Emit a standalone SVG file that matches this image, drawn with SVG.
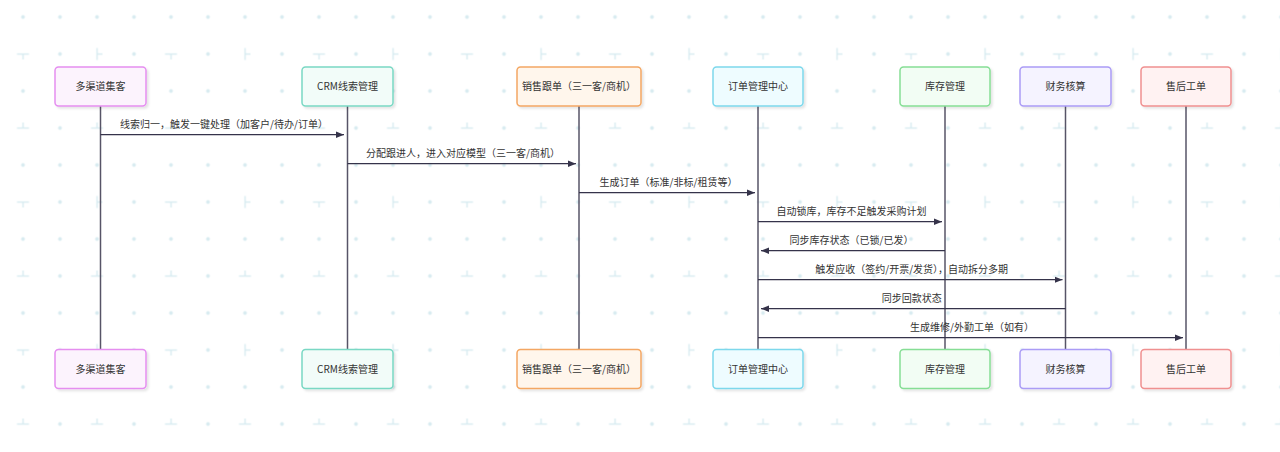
<svg xmlns="http://www.w3.org/2000/svg" width="1280" height="452" viewBox="0 0 1280 452">
<defs>
<pattern id="bg" x="4.5" y="-1.5" width="148" height="148" patternUnits="userSpaceOnUse">
<g fill="#d9ecf1">
<circle cx="18.5" cy="18.5" r="1.9"/><circle cx="55.5" cy="18.5" r="1.9"/><circle cx="92.5" cy="18.5" r="1.9"/><circle cx="129.5" cy="18.5" r="1.9"/>
<circle cx="55.5" cy="55.5" r="1.9"/><circle cx="129.5" cy="55.5" r="1.9"/>
<circle cx="18.5" cy="92.5" r="1.9"/><circle cx="55.5" cy="92.5" r="1.9"/><circle cx="92.5" cy="92.5" r="1.9"/><circle cx="129.5" cy="92.5" r="1.9"/>
<circle cx="55.5" cy="129.5" r="1.9"/><circle cx="129.5" cy="129.5" r="1.9"/>
<rect x="12.5" y="54.8" width="12" height="1.5"/><rect x="17.8" y="55.5" width="1.5" height="5.5"/>
<rect x="91.8" y="49.5" width="1.5" height="12"/><rect x="92.5" y="54.8" width="5.5" height="1.5"/>
<rect x="12.5" y="128.8" width="12" height="1.5"/><rect x="17.8" y="124" width="1.5" height="5.5"/>
<rect x="86.5" y="128.8" width="12" height="1.5"/><rect x="91.8" y="124" width="1.5" height="5.5"/>
</g>
</pattern>
<filter id="sh" x="-10%" y="-20%" width="130%" height="150%">
<feDropShadow dx="2" dy="2" stdDeviation="1.2" flood-color="#000" flood-opacity="0.1"/>
</filter>
<marker id="ah" viewBox="0 0 8 8" refX="8" refY="4" markerWidth="8" markerHeight="8" markerUnits="userSpaceOnUse" orient="auto">
<path d="M0,0.8 L8,4 L0,7.2 Z" fill="#35334a"/>
</marker>
</defs>
<style>
.nt{font-family:"Noto Sans CJK SC","Noto Sans",sans-serif;font-size:10px;fill:#333;text-anchor:middle}
.ml{font-family:"Noto Sans CJK SC","Noto Sans",sans-serif;font-size:10px;fill:#333;text-anchor:middle}
.box{stroke-width:1.5;filter:url(#sh)}
.life{stroke:#575467;stroke-width:1.5;fill:none}
.msg{stroke:#35334a;stroke-width:1.3;fill:none;marker-end:url(#ah)}
</style>
<rect width="1280" height="452" fill="#ffffff"/>
<rect width="1280" height="452" fill="url(#bg)"/>
<g id="lifelines">
<line class="life" x1="100.5" y1="106" x2="100.5" y2="349.5"/>
<line class="life" x1="347.5" y1="106" x2="347.5" y2="349.5"/>
<line class="life" x1="579" y1="106" x2="579" y2="349.5"/>
<line class="life" x1="758" y1="106" x2="758" y2="349.5"/>
<line class="life" x1="945" y1="106" x2="945" y2="349.5"/>
<line class="life" x1="1065.5" y1="106" x2="1065.5" y2="349.5"/>
<line class="life" x1="1186" y1="106" x2="1186" y2="349.5"/>
</g>
<g id="connectors">
<line class="msg" x1="100.5" y1="134.7" x2="344" y2="134.7"/>
<text class="ml" x="224" y="127.7">线索归一，触发一键处理（加客户/待办/订单）</text>
<line class="msg" x1="347.5" y1="163.7" x2="576" y2="163.7"/>
<text class="ml" x="463" y="156.7">分配跟进人，进入对应模型（三一客/商机）</text>
<line class="msg" x1="579" y1="192.7" x2="755" y2="192.7"/>
<text class="ml" x="668.5" y="185.7">生成订单（标准/非标/租赁等）</text>
<line class="msg" x1="758" y1="221.7" x2="942" y2="221.7"/>
<text class="ml" x="851.5" y="214.7">自动锁库，库存不足触发采购计划</text>
<line class="msg" x1="945" y1="250.7" x2="761" y2="250.7"/>
<text class="ml" x="851.5" y="243.7">同步库存状态（已锁/已发）</text>
<line class="msg" x1="758" y1="279.7" x2="1062.5" y2="279.7"/>
<text class="ml" x="911.7" y="272.7">触发应收（签约/开票/发货），自动拆分多期</text>
<line class="msg" x1="1065.5" y1="308.7" x2="761" y2="308.7"/>
<text class="ml" x="911.7" y="301.7">同步回款状态</text>
<line class="msg" x1="758" y1="337.7" x2="1183" y2="337.7"/>
<text class="ml" x="972" y="330.7">生成维修/外勤工单（如有）</text>
</g>
<g id="n1">
<rect class="box" x="55" y="67" width="91" height="39" rx="3.5" fill="#fcf3fd" stroke="#e58ef0"/>
<text class="nt" x="100.5" y="90">多渠道集客</text>
<rect class="box" x="55" y="349.5" width="91" height="39" rx="3.5" fill="#fcf3fd" stroke="#e58ef0"/>
<text class="nt" x="100.5" y="372.5">多渠道集客</text>
</g>
<g id="n2">
<rect class="box" x="302" y="67" width="91" height="39" rx="3.5" fill="#f2fcf9" stroke="#7ad8c4"/>
<text class="nt" x="347.5" y="90">CRM线索管理</text>
<rect class="box" x="302" y="349.5" width="91" height="39" rx="3.5" fill="#f2fcf9" stroke="#7ad8c4"/>
<text class="nt" x="347.5" y="372.5">CRM线索管理</text>
</g>
<g id="n3">
<rect class="box" x="517" y="67" width="124" height="39" rx="3.5" fill="#fff6ec" stroke="#f4a763"/>
<text class="nt" x="579" y="90">销售跟单（三一客/商机）</text>
<rect class="box" x="517" y="349.5" width="124" height="39" rx="3.5" fill="#fff6ec" stroke="#f4a763"/>
<text class="nt" x="579" y="372.5">销售跟单（三一客/商机）</text>
</g>
<g id="n4">
<rect class="box" x="713" y="67" width="90" height="39" rx="3.5" fill="#eefcff" stroke="#7dd8ec"/>
<text class="nt" x="758" y="90">订单管理中心</text>
<rect class="box" x="713" y="349.5" width="90" height="39" rx="3.5" fill="#eefcff" stroke="#7dd8ec"/>
<text class="nt" x="758" y="372.5">订单管理中心</text>
</g>
<g id="n5">
<rect class="box" x="900" y="67" width="90" height="39" rx="3.5" fill="#f2fdf4" stroke="#86de95"/>
<text class="nt" x="945" y="90">库存管理</text>
<rect class="box" x="900" y="349.5" width="90" height="39" rx="3.5" fill="#f2fdf4" stroke="#86de95"/>
<text class="nt" x="945" y="372.5">库存管理</text>
</g>
<g id="n6">
<rect class="box" x="1020" y="67" width="91" height="39" rx="3.5" fill="#f5f3ff" stroke="#ab9cf6"/>
<text class="nt" x="1065.5" y="90">财务核算</text>
<rect class="box" x="1020" y="349.5" width="91" height="39" rx="3.5" fill="#f5f3ff" stroke="#ab9cf6"/>
<text class="nt" x="1065.5" y="372.5">财务核算</text>
</g>
<g id="n7">
<rect class="box" x="1141" y="67" width="90" height="39" rx="3.5" fill="#fff2f2" stroke="#f09090"/>
<text class="nt" x="1186" y="90">售后工单</text>
<rect class="box" x="1141" y="349.5" width="90" height="39" rx="3.5" fill="#fff2f2" stroke="#f09090"/>
<text class="nt" x="1186" y="372.5">售后工单</text>
</g>
</svg>
